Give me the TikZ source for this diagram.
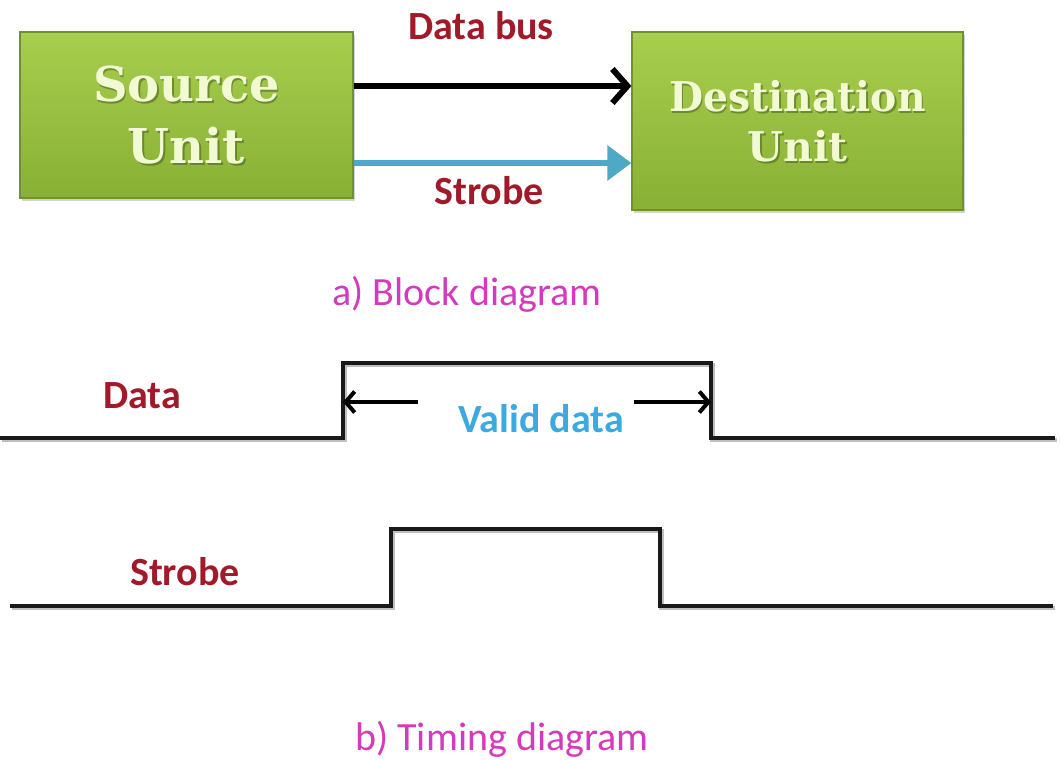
\documentclass[tikz,border=0pt]{standalone}
\usepackage{fontspec}
\setmainfont{Carlito}
\newfontfamily\slabfont{DejaVu Serif}
\usetikzlibrary{arrows.meta,shadows,calc}

\definecolor{lblred}{RGB}{160,26,42}
\definecolor{validblue}{RGB}{60,170,222}
\definecolor{capmag}{RGB}{214,58,188}
\definecolor{strobeteal}{RGB}{78,168,198}
\definecolor{boxtop}{RGB}{168,206,78}
\definecolor{boxbot}{RGB}{136,176,52}
\definecolor{boxedge}{RGB}{112,146,44}
\definecolor{boxtxt}{RGB}{242,250,212}
\definecolor{txtshade}{RGB}{70,95,30}

\tikzset{
  unitbox/.style={draw=boxedge, line width=1.2pt, top color=boxtop, bottom color=boxbot,
    drop shadow={shadow xshift=2pt, shadow yshift=-3pt, opacity=0.35},
    inner sep=0pt},
  unittext/.style={text=boxtxt, align=center},
  unitshade/.style={text=txtshade, opacity=0.55, align=center},
  lbl/.style={text=lblred, font=\bfseries\fontsize{40}{44}\selectfont, anchor=base, inner sep=0pt},
  caption/.style={text=capmag, font=\fontsize{40}{44}\selectfont, anchor=base, inner sep=0pt},
  wave/.style={line width=4.4pt, line join=miter, black!90,
    preaction={draw=black!25, line width=4.4pt, transform canvas={shift={(1.5pt,-2pt)}}}},
  busarrow/.style={line width=6pt, -{Straight Barb[length=15pt,width=34pt,line width=6pt]}},
  strobearrow/.style={line width=6pt, strobeteal, -{Triangle[length=24pt,width=34pt]}},
  spanarrow/.style={line width=4pt, -{Straight Barb[length=9pt,width=21pt,line width=4pt]}}
}

\begin{document}
\begin{tikzpicture}[x=1pt,y=-1pt]
  \useasboundingbox (0,0) rectangle (1060,760);

  % ---- block diagram ----
  \node[unitbox, minimum width=333pt, minimum height=166pt] (src) at (186.5,115) {};
  \node[unitbox, minimum width=331pt, minimum height=178pt] (dst) at (797.5,121) {};

  \node[unitshade, font=\slabfont\bfseries\fontsize{48}{62}\selectfont] (srcsh) at ($(src)+(1.6,1.8)$)
    {Source\\Unit};
  \node[unittext, font=\slabfont\bfseries\fontsize{48}{62}\selectfont] (srctxt) at (src)
    {Source\\Unit};
  \node[unitshade, font=\slabfont\bfseries\fontsize{41}{50}\selectfont] (dstsh) at ($(dst)+(1.6,1.8)$)
    {\scalebox{0.96}[1]{Destination}\\Unit};
  \node[unittext, font=\slabfont\bfseries\fontsize{41}{50}\selectfont] (dsttxt) at (dst)
    {\scalebox{0.96}[1]{Destination}\\Unit};

  \draw[busarrow] (src.east |- 0,86) -- (dst.west |- 0,86);
  \draw[strobearrow] (src.east |- 0,163) -- (dst.west |- 0,163);

  \node[lbl] (lbus) at (481,40) {Data bus};
  \node[lbl] (lstb) at (489,204) {Strobe};
  \node[caption] (capa) at (467,305) {a) Block diagram};

  % ---- timing diagram ----
  \coordinate (dA) at (0,438);
  \coordinate (dR) at (343,438);
  \coordinate (dF) at (711,438);
  \coordinate (dB) at (1055,438);
  \draw[wave] (dA) -- (dR) -- ++(0,-75) -- (dF |- 0,363) -- (dF) -- (dB);

  \coordinate (vL) at (418,402);
  \coordinate (vR) at (634,402);
  \draw[spanarrow] (vL) -- (dR |- vL);
  \draw[spanarrow] (vR) -- (dF |- vR);
  \node[text=validblue, font=\bfseries\fontsize{40}{44}\selectfont, anchor=base, inner sep=0pt] (lvalid) at (541,432) {Valid data};
  \node[lbl] (ldata) at (142,408) {Data};

  \coordinate (sA) at (10,606);
  \coordinate (sR) at (391,606);
  \coordinate (sF) at (660,606);
  \coordinate (sB) at (1053,606);
  \draw[wave] (sA) -- (sR) -- ++(0,-77) -- (sF |- 0,529) -- (sF) -- (sB);

  \node[lbl] (lstrobe) at (185,585) {Strobe};
  \node[caption] (capb) at (502,750) {b) Timing diagram};
\end{tikzpicture}
\end{document}
